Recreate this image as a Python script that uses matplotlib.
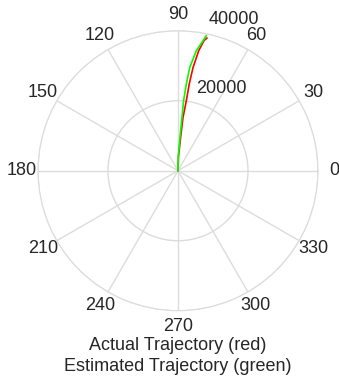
import numpy as np
import matplotlib
matplotlib.use("Agg")
import matplotlib.pyplot as plt

plt.rcParams["font.family"] = ["Liberation Sans", "DejaVu Sans"]

# trajectory samples (angle in degrees, range)
actual_theta = [90, 88, 85.3, 84.6, 83.2, 82.6, 81.7, 80.2, 78.7, 77.7]
actual_r = [0, 4000, 10500, 15300, 20100, 25000, 29800, 34800, 37900, 38800]
est_theta = [90, 89, 86.4, 85.7, 85.4, 84.5, 83.5, 81.3, 79.1, 78.2]
est_r = [0, 4000, 10500, 15300, 20100, 24900, 29700, 34700, 37800, 39400]

theta_ticks = list(range(0, 360, 30))
r_ticks = [20000, 40000]
r_label_angle = 80
grid_color = "#dcdcdc"
text_color = "#262626"

fig = plt.figure(figsize=(3.39, 3.79), dpi=100)
ax = fig.add_axes([0.112, 0.18, 0.826, 0.739], projection="polar")

ax.plot(np.radians(actual_theta), actual_r, color="#ff0000", linewidth=1.2)
ax.plot(np.radians(est_theta), est_r, color="#00ff00", linewidth=1.2)

ax.set_ylim(0, 40000)
ax.set_thetagrids(theta_ticks, [str(t) for t in theta_ticks])
ax.set_rgrids(r_ticks, [""] * len(r_ticks))
ax.grid(color=grid_color, linewidth=1.0)
ax.spines["polar"].set_color(grid_color)
ax.tick_params(axis="x", pad=1.0, labelsize=13, colors=text_color)

# range labels sit just up and right of where the rings meet the 80 deg spoke
for r in r_ticks:
    ax.annotate(str(r), xy=(np.radians(r_label_angle), r), xytext=(4.3, 6.5),
                textcoords="offset points", ha="left", va="baseline",
                fontsize=13, color=text_color)

fig.text(0.525, 0.06, "Actual Trajectory (red)\nEstimated Trajectory (green)",
         ha="center", va="center", fontsize=13, color=text_color, linespacing=1.3)

fig.savefig("out.png", dpi=100)
